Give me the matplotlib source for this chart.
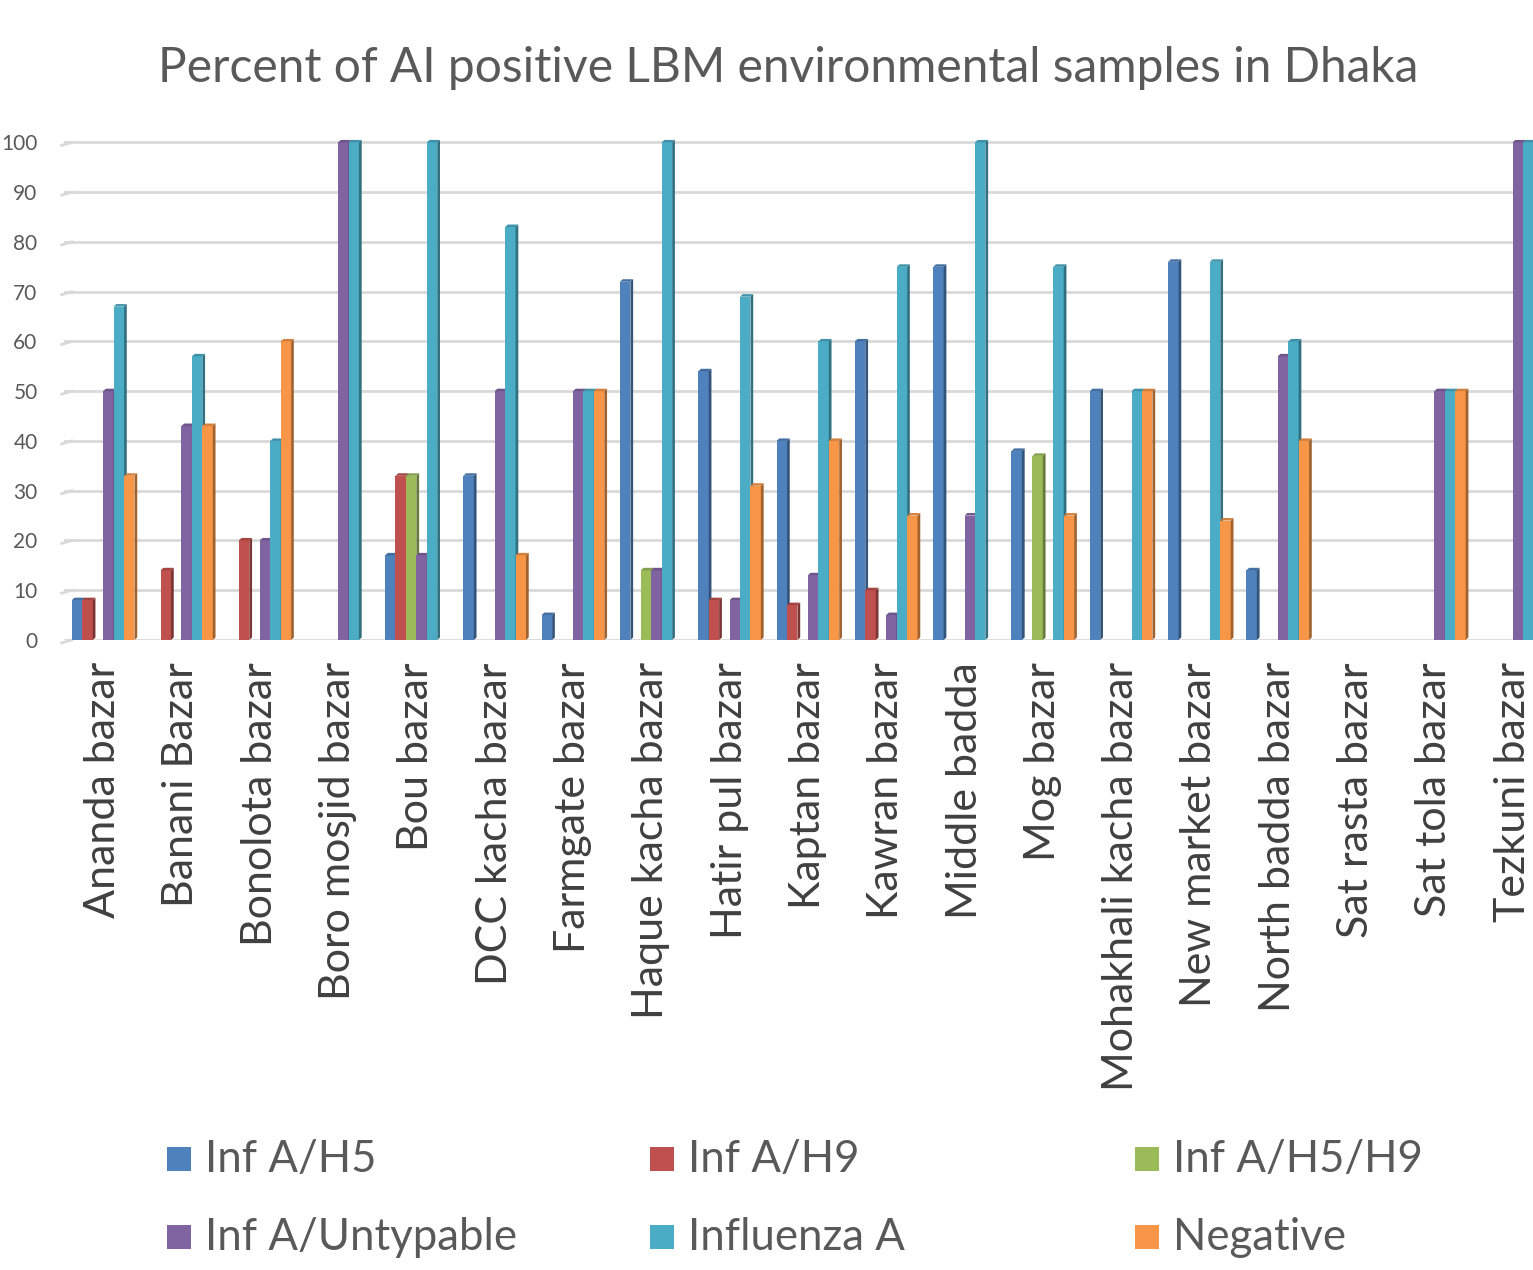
import numpy as np
import matplotlib
matplotlib.use('Agg')
import matplotlib.pyplot as plt
from matplotlib.patches import Polygon, Rectangle
from matplotlib.colors import to_rgb

plt.rcParams['font.family'] = ['Lato', 'DejaVu Sans']

# data
markets = ['Ananda bazar', 'Banani Bazar', 'Bonolota bazar', 'Boro mosjid bazar',
           'Bou bazar', 'DCC kacha bazar', 'Farmgate bazar', 'Haque kacha bazar',
           'Hatir pul bazar', 'Kaptan bazar', 'Kawran bazar', 'Middle badda',
           'Mog bazar', 'Mohakhali kacha bazar', 'New market bazar',
           'North badda bazar', 'Sat rasta bazar', 'Sat tola bazar', 'Tezkuni bazar']
series_names = ['Inf A/H5', 'Inf A/H9', 'Inf A/H5/H9',
                'Inf A/Untypable', 'Influenza A', 'Negative']
inf_h5 =      [8, 0, 0, 0, 17, 33, 5, 72, 54, 40, 60, 75, 38, 50, 76, 14, 0, 0, 0]
inf_h9 =      [8, 14, 20, 0, 33, 0, 0, 0, 8, 7, 10, 0, 0, 0, 0, 0, 0, 0, 0]
inf_h5h9 =    [0, 0, 0, 0, 33, 0, 0, 14, 0, 0, 0, 0, 37, 0, 0, 0, 0, 0, 0]
untypable =   [50, 43, 20, 100, 17, 50, 50, 14, 8, 13, 5, 25, 0, 0, 0, 57, 0, 50, 100]
influenza_a = [67, 57, 40, 100, 100, 83, 50, 100, 69, 60, 75, 100, 75, 50, 76, 60, 0, 50, 100]
negative =    [33, 43, 60, 0, 0, 17, 50, 0, 31, 40, 25, 0, 25, 50, 24, 40, 0, 50, 0]
colors = ['#4F81BD', '#C0504D', '#9BBB59', '#8064A2', '#4BACC6', '#F79646']

all_series = [inf_h5, inf_h9, inf_h5h9, untypable, influenza_a, negative]


def darker(c, f):
    r, g, b = to_rgb(c)
    return (r * f, g * f, b * f)


fig = plt.figure(figsize=(15.33, 12.7), dpi=100)
ax = fig.add_axes([64 / 1533, 0.4961, 1 - 64 / 1533, 0.3996])

n_cat = len(markets)
slot = 0.8 / len(all_series)
x = np.arange(n_cat)
dx, dy = 0.035, 0.5   # fake 3d depth

for k, (vals, col) in enumerate(zip(all_series, colors)):
    left = x - 0.4 + k * slot
    for xl, h in zip(left, vals):
        if h <= 0:
            continue
        ax.add_patch(Rectangle((xl, 0), slot, h, facecolor=col,
                               edgecolor='none', zorder=3))
        side = [(xl + slot, 0), (xl + slot + dx, dy),
                (xl + slot + dx, h + dy), (xl + slot, h)]
        ax.add_patch(Polygon(side, closed=True, facecolor=darker(col, 0.65),
                             edgecolor='none', zorder=3))
        top = [(xl, h), (xl + dx, h + dy), (xl + slot + dx, h + dy), (xl + slot, h)]
        ax.add_patch(Polygon(top, closed=True, facecolor=darker(col, 0.85),
                             edgecolor='none', zorder=3, clip_on=False))

ax.set_xlim(-0.5, 18.26)
ax.set_ylim(0, 102)
ax.set_yticks(range(0, 101, 10))
ax.tick_params(axis='y', length=0, pad=19, labelsize=15, labelcolor='#595959')
ax.tick_params(axis='x', length=0, pad=16, labelsize=31, labelcolor='#404040')
ax.set_xticks(x)
ax.set_xticklabels(markets, rotation=90, va='top', ha='center')
for s in ax.spines.values():
    s.set_visible(False)

# gridlines with the little 3d kink on the left
for yv in range(0, 101, 10):
    ax.plot([-0.5, 18.26], [yv, yv], color='#D9D9D9', lw=2, zorder=1)
    ax.plot([-0.53, -0.4], [yv - 0.6, yv], color='#D9D9D9', lw=2, zorder=1, clip_on=False)

fig.text(788 / 1533, 1 - 68 / 1270, 'Percent of AI positive LBM environmental samples in Dhaka',
         ha='center', va='center', fontsize=34.5, color='#595959')

# legend
leg_x = [167, 650, 1135]
leg_y = [1160, 1238]
for i, (name, col) in enumerate(zip(series_names, colors)):
    lx = leg_x[i % 3] / 1533
    ly = 1 - leg_y[i // 3] / 1270
    fig.patches.append(Rectangle((lx, ly - 11 / 1270), 24 / 1533, 24 / 1270,
                                 facecolor=col, edgecolor='none',
                                 transform=fig.transFigure, figure=fig))
    fig.text(lx + 38 / 1533, ly, name, ha='left', va='center',
             fontsize=31.5, color='#595959')

fig.savefig('out.png', dpi=100)
